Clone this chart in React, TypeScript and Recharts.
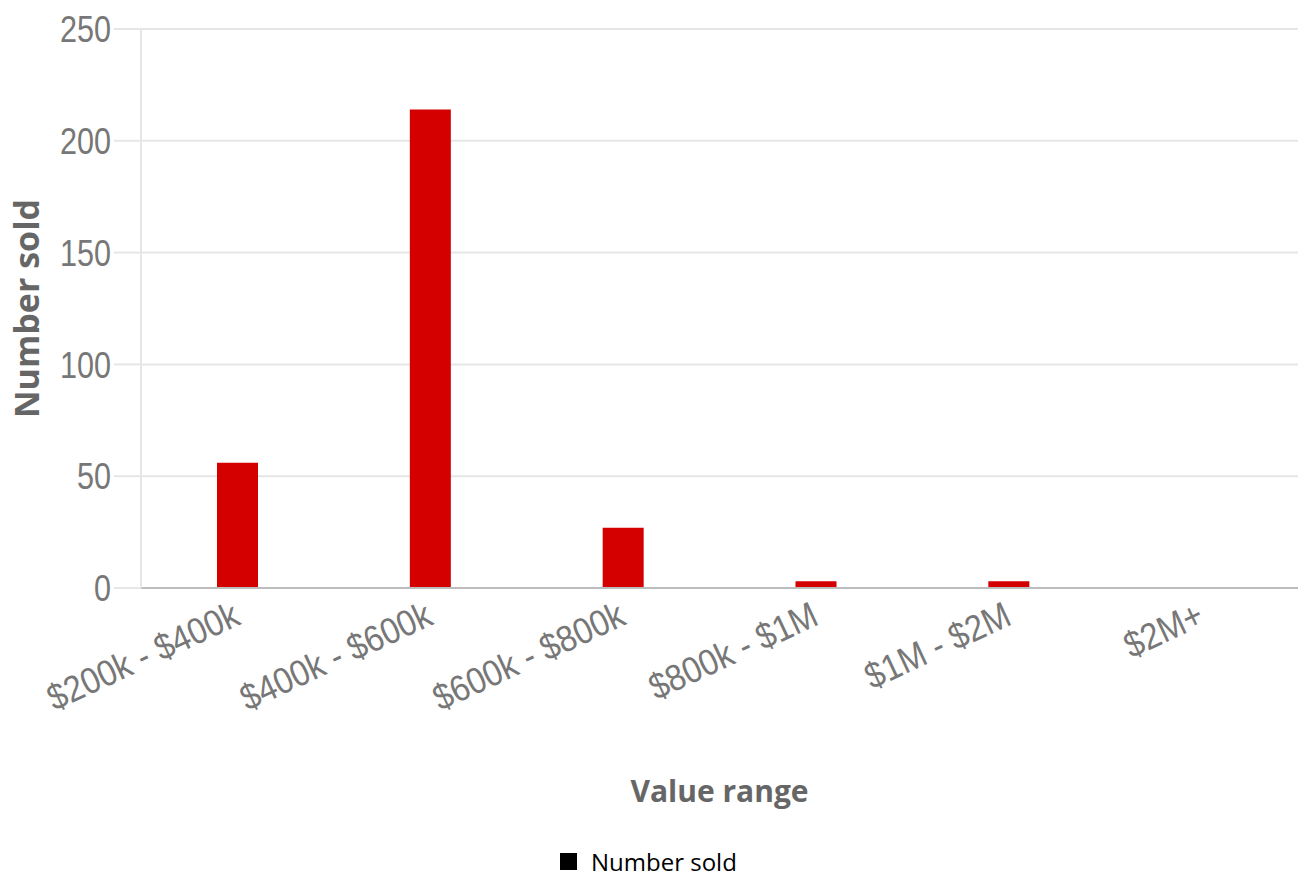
import React from "react";
import {
  BarChart,
  Bar,
  XAxis,
  YAxis,
  CartesianGrid,
  Legend,
} from "recharts";

const ranges = ["$200k - $400k", "$400k - $600k", "$600k - $800k", "$800k - $1M", "$1M - $2M", "$2M+"];
const numberSold = [56, 214, 27, 3, 3, 0];
const yTicks = [0, 50, 100, 150, 200, 250];

const data = ranges.map((range, i) => ({ range, sold: numberSold[i] }));

const tickFont = "'Liberation Sans', Arial, sans-serif";
const titleFont = "'Open Sans', 'Noto Sans', sans-serif";

function XTick({ x, y, payload }: any) {
  return (
    <g transform={`translate(${x},${y + 18})`}>
      <text
        textAnchor="end"
        transform="rotate(-25) scale(0.96,1.08)"
        fill="#777"
        fontSize={34}
        fontFamily={tickFont}
        dy={10}
      >
        {payload.value}
      </text>
    </g>
  );
}

function YTick({ x, y, payload }: any) {
  return (
    <g transform={`translate(${x},${y})`}>
      <text
        textAnchor="end"
        transform="scale(0.9,1.1)"
        fill="#777"
        fontSize={34}
        fontFamily={tickFont}
        dy={12}
      >
        {payload.value}
      </text>
    </g>
  );
}

function LegendBox() {
  return (
    <div style={{ display: "flex", alignItems: "center", fontFamily: titleFont, fontSize: 24, color: "#000" }}>
      <span style={{ width: 17, height: 17, background: "#000", display: "inline-block", marginRight: 14 }} />
      Number sold
    </div>
  );
}

export default function App() {
  return (
    <div style={{ position: "absolute", left: 0, top: 0, background: "#fff" }}>
      <BarChart width={1305} height={877} data={data} margin={{ top: 29, right: 7, left: 0, bottom: 0 }}>
        <CartesianGrid vertical={false} stroke="#e6e6e6" strokeWidth={2} />
        <XAxis
          dataKey="range"
          height={257}
          tickLine={false}
          axisLine={{ stroke: "#bdbdbd", strokeWidth: 2 }}
          tick={<XTick />}
          interval={0}
          label={{
            value: "Value range",
            position: "insideBottom",
            offset: 43,
            fill: "#666",
            fontSize: 30,
            fontWeight: 700,
            fontFamily: titleFont,
          }}
        />
        <YAxis
          width={141}
          domain={[0, 250]}
          ticks={yTicks}
          tickSize={27}
          tickMargin={3}
          tickLine={{ stroke: "#e6e6e6", strokeWidth: 2 }}
          axisLine={{ stroke: "#e6e6e6", strokeWidth: 2 }}
          tick={<YTick />}
          label={{
            value: "Number sold",
            angle: -90,
            position: "insideLeft",
            offset: 27,
            fill: "#666",
            fontSize: 34,
            fontWeight: 700,
            fontFamily: titleFont,
            style: { textAnchor: "middle" },
          }}
        />
        <Legend
          verticalAlign="bottom"
          content={<LegendBox />}
          wrapperStyle={{ left: 560, width: 300, top: 845, bottom: "auto", height: 32 }}
        />
        <Bar dataKey="sold" name="Number sold" fill="#d40000" barSize={41} isAnimationActive={false} />
      </BarChart>
    </div>
  );
}
